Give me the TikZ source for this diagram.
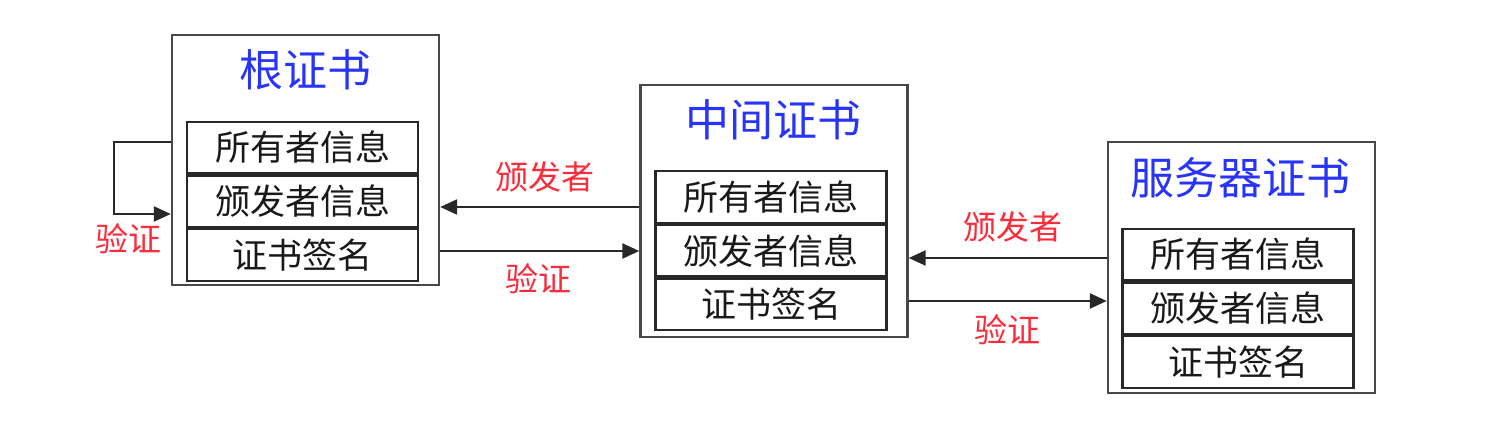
\documentclass[tikz,border=0pt]{standalone}
\usepackage{fontspec}
\setmainfont{Noto Sans CJK SC}
\usetikzlibrary{arrows.meta,positioning,calc}
\definecolor{ttblue}{RGB}{40,52,250}
\definecolor{lblred}{RGB}{250,45,60}
\definecolor{lne}{RGB}{40,40,40}
\tikzset{
  outerbox/.style={draw=lne!85, line width=2.4pt, minimum width=267pt, inner sep=0pt},
  rowbox/.style={draw=lne, line width=2.2pt, minimum width=231pt, minimum height=51.5pt, inner sep=0pt, font=\fontsize{35}{37}\selectfont, text=black!90},
  ttl/.style={text=ttblue, font=\fontsize{44}{48}\selectfont, inner sep=0pt},
  lbl/.style={text=lblred, font=\fontsize{33}{36}\selectfont, inner sep=0pt},
  arr/.style={draw=lne, line width=2.4pt, -{Triangle[length=17pt,width=15pt]}},
}
\begin{document}
\begin{tikzpicture}[x=1pt,y=-1pt]
\useasboundingbox (0,0) rectangle (1492,446);
% root
\node[outerbox, minimum height=250pt] (root) at (305.5,160) {};
\node[ttl] (rt) at (305,70) {根证书};
\node[rowbox] (r1) at (302.5,147.5) {所有者信息};
\node[rowbox, below=0pt of r1] (r2) {颁发者信息};
\node[rowbox, below=0pt of r2] (r3) {证书签名};
% middle
\node[outerbox, minimum height=252pt] (mid) at (774,211) {};
\node[ttl] (mt) at (773,120) {中间证书};
\node[rowbox] (m1) at (771,197) {所有者信息};
\node[rowbox, below=0pt of m1] (m2) {颁发者信息};
\node[rowbox, below=0pt of m2] (m3) {证书签名};
% server
\node[outerbox, minimum height=251pt] (srv) at (1241.5,267.5) {};
\node[ttl] (st) at (1240,178) {服务器证书};
\node[rowbox] (s1) at (1238,254.5) {所有者信息};
\node[rowbox, below=0pt of s1] (s2) {颁发者信息};
\node[rowbox, below=0pt of s2] (s3) {证书签名};
% self loop
\coordinate (la) at ([yshift=18pt]root.west);
\coordinate (lb) at ([yshift=-54pt]root.west);
\draw[arr] (la) -- ++(-57,0) |- (lb);
\node[lbl] (l0) at (128,239) {验证};
% middle -> root
\draw[arr] ([yshift=4pt]mid.west) -- ([yshift=4pt]mid.west -| root.east);
\draw[arr] ([yshift=-40pt]mid.west -| root.east) -- ([yshift=-40pt]mid.west);
\node[lbl] (l1) at (545,177) {颁发者};
\node[lbl] (l2) at (538,279) {验证};
% server -> middle
\draw[arr] ([yshift=9.5pt]srv.west) -- ([yshift=9.5pt]srv.west -| mid.east);
\draw[arr] ([yshift=-33.5pt]srv.west -| mid.east) -- ([yshift=-33.5pt]srv.west);
\node[lbl] (l3) at (1013,227) {颁发者};
\node[lbl] (l4) at (1007,330) {验证};
\end{tikzpicture}
\end{document}
